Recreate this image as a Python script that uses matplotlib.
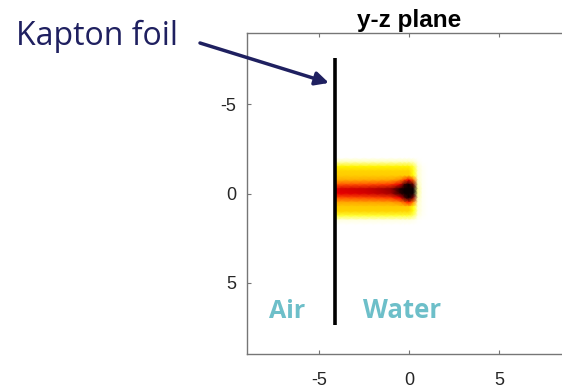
import numpy as np
import matplotlib
matplotlib.use("Agg")
import matplotlib.pyplot as plt

plt.rcParams['axes.unicode_minus'] = False

# depth positions (z, horizontal) and lateral positions (y, vertical) of the dose grid
depth_z = [-4.05, -3.5, -3.0, -2.5, -2.0, -1.5, -1.0, -0.5, -0.25, 0.0, 0.25, 0.5, 0.75, 1.0]
lateral_y = [-2.25, -2.0, -1.75, -1.5, -1.25, -1.0, -0.75, -0.5, -0.25, 0.0,
             0.25, 0.5, 0.75, 1.0, 1.25, 1.5, 1.75]

# broad yellow halo
halo_depth = [1, 1, 1, 1, 1, 1, 1, 1, 1, 1, 0.75, 0.15, 0.04, 0]
halo_lateral = [0, 0, 0.08, 0.27, 0.32, 0.33, 0.35, 0.37, 0.38, 0.38,
                0.37, 0.35, 0.33, 0.32, 0.2, 0.03, 0]
# narrow red core along the axis
core_depth = [0.34, 0.35, 0.36, 0.37, 0.39, 0.42, 0.46, 0.52, 0.58, 0.62, 0.45, 0.05, 0, 0]
core_lateral = [0, 0, 0, 0, 0, 0, 0.08, 0.4, 0.9, 0.85, 0.4, 0.1, 0, 0, 0, 0, 0]
# dark Bragg peak at the end of the range
peak_depth = [0, 0, 0, 0, 0, 0, 0, 0.12, 0.4, 0.75, 0.5, 0, 0, 0]
peak_lateral = [0, 0, 0, 0, 0, 0, 0.35, 0.8, 1, 1, 0.7, 0.25, 0, 0, 0, 0, 0]

foil_z = [-4.1, -4.1]
foil_y = [-7.6, 7.4]

dose = (np.outer(halo_lateral, halo_depth)
        + np.outer(core_lateral, core_depth)
        + np.outer(peak_lateral, peak_depth))

fig = plt.figure(figsize=(5.62, 3.89), dpi=100)
ax = fig.add_axes([247 / 562, 35 / 389, 324 / 562, 321 / 389])

ax.pcolormesh(depth_z, lateral_y, dose, shading='gouraud', cmap='hot_r', vmin=0, vmax=1)
ax.plot(foil_z, foil_y, color='black', lw=2.6, solid_capstyle='butt')

ax.set_xlim(-9, 9)
ax.set_ylim(9, -9)
ax.set_xticks([-5, 0, 5])
ax.set_yticks([-5, 0, 5])
for s in ax.spines.values():
    s.set_color('#767676')
    s.set_linewidth(1.0)
ax.tick_params(direction='in', length=3, color='#767676', top=True, right=True,
               labelsize=13, labelcolor='#262626')
ax.tick_params(axis='x', pad=13)
ax.tick_params(axis='y', pad=8)
for lab in ax.get_xticklabels() + ax.get_yticklabels():
    lab.set_family('Liberation Sans')
ax.set_title('y-z plane', fontsize=17.5, fontweight='bold', family='Liberation Sans', pad=4)

navy = '#1f2060'
teal = '#6dbfc9'
fig.text(16 / 562, 1 - 45 / 389, 'Kapton foil', fontsize=23, color=navy, family='Open Sans',
         va='baseline', ha='left')
ax.annotate('', xy=(-4.45, -6.2), xycoords='data',
            xytext=(200 / 562, 1 - 43 / 389), textcoords='figure fraction',
            arrowprops=dict(arrowstyle='-|>', color=navy, lw=2.5, mutation_scale=20,
                            shrinkA=0, shrinkB=0),
            annotation_clip=False)
ax.text(-7.8, 7.0, 'Air', fontsize=18, fontweight='bold', color=teal, family='Open Sans',
        va='baseline', ha='left')
ax.text(-2.55, 7.0, 'Water', fontsize=18.5, fontweight='bold', color=teal, family='Open Sans',
        va='baseline', ha='left')

fig.savefig('out.png', dpi=100)
